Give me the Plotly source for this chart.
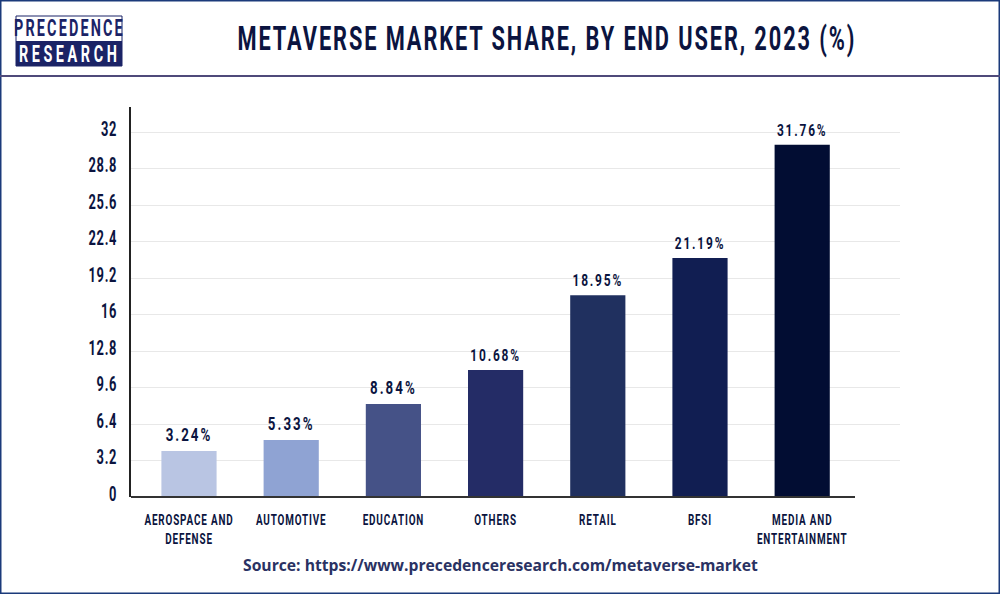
import plotly.graph_objects as go

categories = ["AEROSPACE AND<br>DEFENSE", "AUTOMOTIVE", "EDUCATION", "OTHERS", "RETAIL", "BFSI", "MEDIA AND<br>ENTERTAINMENT"]
# Bar heights as drawn, read against the axis (they differ a little from the printed labels)
drawn_values = [4.04, 5.0, 8.16, 11.14, 17.7, 20.96, 30.9]
value_labels = ["3.24%", "5.33%", "8.84%", "10.68%", "18.95%", "21.19%", "31.76%"]
bar_colors = ["#b9c5e3", "#8fa3d3", "#455287", "#242c66", "#20305f", "#111e52", "#020d33"]
tick_values = [0, 3.2, 6.4, 9.6, 12.8, 16, 19.2, 22.4, 25.6, 28.8, 32]
tick_labels = ["0", "3.2", "6.4", "9.6", "12.8", "16", "19.2", "22.4", "25.6", "28.8", "32"]

W, H = 1000, 594
L, R, T, B = 131, 900, 107, 497
NARROW = "Roboto"
INK = "#0b1440"

fig = go.Figure(go.Bar(
    x=categories, y=drawn_values, width=0.54,
    marker=dict(color=bar_colors, line_width=0),
    text=value_labels, textposition="outside", cliponaxis=False,
    textfont=dict(family=NARROW, size=18.5, color=INK, weight=700),
    hoverinfo="skip",
))

def px_x(v): return (v - L) / (R - L)
def px_y(v): return (B - v) / (B - T)

shapes = [
    dict(type="rect", xref="paper", yref="paper", x0=px_x(0), x1=px_x(W), y0=px_y(H), y1=px_y(0),
         line=dict(color="#1b3a7a", width=3), fillcolor="rgba(0,0,0,0)"),
    dict(type="line", xref="paper", yref="paper", x0=px_x(0), x1=px_x(W), y0=px_y(76), y1=px_y(76),
         line=dict(color="#4f4a7a", width=2)),
    dict(type="rect", xref="paper", yref="paper", x0=px_x(16), x1=px_x(122), y0=px_y(66), y1=px_y(16),
         line=dict(color="#1b2366", width=1), fillcolor="white"),
    dict(type="rect", xref="paper", yref="paper", x0=px_x(16), x1=px_x(122), y0=px_y(66), y1=px_y(41),
         line=dict(width=0), fillcolor="#1b2366"),
    dict(type="line", xref="paper", yref="paper", x0=px_x(L), x1=px_x(855), y0=px_y(B), y1=px_y(B),
         line=dict(color="#333333", width=2)),
]

def label(text, x, y, size, color, family=NARROW):
    return dict(text=text, xref="paper", yref="paper", x=px_x(x), y=px_y(y), showarrow=False,
                xanchor="center", yanchor="middle", font=dict(family=family, size=size, color=color))

annotations = [
    label("<b>METAVERSE MARKET SHARE, BY END USER, 2023 (%)</b>", 547, 39, 33, INK),
    label("<b>PRECEDENCE</b>", 69, 28, 24, "#1b2366"),
    label("<b>RESEARCH</b>", 69, 54, 24, "white"),
    label("<b>Source: https://www.precedenceresearch.com/metaverse-market</b>", 500, 565, 15.7, "#2a3263", "Open Sans"),
]

fig.update_layout(
    width=W, height=H, autosize=False, showlegend=False,
    margin=dict(l=L, r=W - R, t=T, b=H - B, pad=0),
    paper_bgcolor="white", plot_bgcolor="white",
    shapes=shapes, annotations=annotations,
    xaxis=dict(range=[-0.5675, 6.957], type="category", showgrid=False, showline=False, ticks="", tickangle=0,
               tickfont=dict(family=NARROW, size=15, color=INK, weight=700), ticklabelstandoff=12,
               fixedrange=True, automargin=False),
    yaxis=dict(range=[0, 34.2], tickvals=tick_values, ticktext=tick_labels, showgrid=True,
               gridcolor="#e8e8e8", gridwidth=1, zeroline=False, showline=True, linecolor="#222222",
               linewidth=2, ticks="", ticklabelstandoff=8,
               tickfont=dict(family=NARROW, size=19.5, color=INK, weight=700), fixedrange=True, automargin=False),
)

post = """
var s=document.createElement('style');
s.textContent='body{margin:0;padding:0}';
document.head.appendChild(s);
function narrow(){
  document.querySelectorAll('.main-svg text').forEach(function(t){
    if((t.style.fontFamily||'').indexOf('Roboto')<0) return;
    var txt=t.textContent, k=0.66, sp=1.5, dy=0;
    if(txt==='PRECEDENCE'){k=0.6; sp=3.6;}
    else if(txt==='RESEARCH'){k=0.6; sp=6;}
    else if(txt.indexOf('METAVERSE')===0){sp=2.9;}
    else if(t.closest('.bartext')||t.classList.contains('bartext')){k=0.72; sp=2.8; dy=-1.5;}
    else if(t.closest('.ytick')){dy=-3; sp=1;}
    else if(t.closest('.xtick')){sp=1.3;}
    t.style.letterSpacing=sp+'px';
    var b=t.getBBox();
    var a=t.style.textAnchor||t.getAttribute('text-anchor')||'start';
    var cx=a==='end'?b.x+b.width:b.x+b.width/2;
    var old=t.getAttribute('transform')||'';
    t.setAttribute('transform','translate(0,'+dy+') '+old+' translate('+cx+',0) scale('+k+',1) translate('+(-cx)+',0)');
  });
}
setTimeout(narrow,0);
"""
fig.write_html("out.html", config=dict(displayModeBar=False), post_script=post)
